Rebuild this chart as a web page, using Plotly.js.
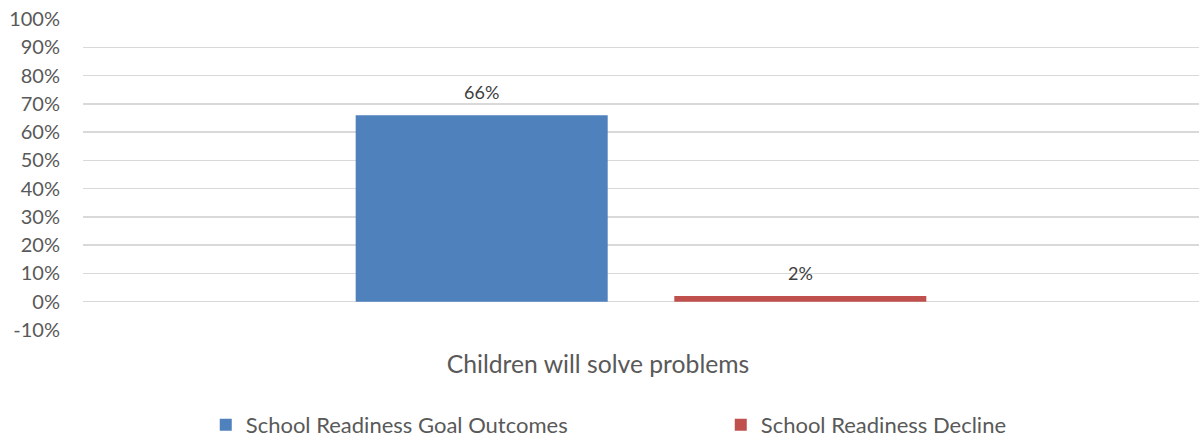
<!DOCTYPE html>
<html>
<head>
<meta charset="utf-8">
<script src="https://cdn.plot.ly/plotly-3.0.1.min.js"></script>
<style>html,body{margin:0;padding:0;background:#fff;}#chart{width:1199px;height:437px;}</style>
</head>
<body>
<div id="chart"></div>
<script>
var categories = ["Children will solve problems"];
var seriesNames = ["School Readiness Goal Outcomes", "School Readiness Decline"];
var goalOutcomes = [0.66];
var decline = [0.02];
var seriesColors = ["#4F81BD", "#C0504D"];
var yTickValues = [-0.1, 0, 0.1, 0.2, 0.3, 0.4, 0.5, 0.6, 0.7, 0.8, 0.9, 1.0];
var yTickLabels = ["-10%", "0%", "10%", "20%", "30%", "40%", "50%", "60%", "70%", "80%", "90%", "100%"];

var FONT = "Lato, 'Open Sans', sans-serif";
var W = 1199, H = 437;
var MARGIN = {l: 83, r: 0, t: 19, b: 107, pad: 0, autoexpand: false};
var BARGAP = 0.429, BARGROUPGAP = 0.209;

var allSeries = [goalOutcomes, decline];

var data = allSeries.map(function (values, i) {
  return {
    type: "bar",
    name: seriesNames[i],
    x: categories,
    y: values,
    marker: {color: seriesColors[i]},
    hoverinfo: "none"
  };
});

// data labels: placed at each bar's value, offset to the bar's slot within the group
var plotW = W - MARGIN.l - MARGIN.r;
var catW = plotW / categories.length;
var slotW = catW * (1 - BARGAP) / allSeries.length;
var annotations = [];
allSeries.forEach(function (values, i) {
  values.forEach(function (v, j) {
    annotations.push({
      x: categories[j],
      y: v,
      xref: "x",
      yref: "y",
      text: Math.round(v * 100) + "%",
      showarrow: false,
      xshift: (i - (allSeries.length - 1) / 2) * slotW,
      yshift: 23,
      yanchor: "middle",
      xanchor: "center",
      font: {family: FONT, size: 18, color: "#404040"}
    });
  });
});

var layout = {
  width: W,
  height: H,
  margin: MARGIN,
  paper_bgcolor: "#ffffff",
  plot_bgcolor: "#ffffff",
  font: {family: FONT, color: "#595959"},
  barmode: "group",
  bargap: BARGAP,
  bargroupgap: BARGROUPGAP,
  showlegend: true,
  annotations: annotations,
  xaxis: {
    type: "category",
    showgrid: false,
    zeroline: false,
    showline: false,
    ticks: "",
    ticklabelstandoff: 17,
    ticklabelshift: -43,
    tickfont: {family: FONT, size: 24.7, color: "#595959"},
    automargin: false
  },
  yaxis: {
    range: [-0.1, 1.0],
    tickmode: "array",
    tickvals: yTickValues,
    ticktext: yTickLabels,
    showgrid: true,
    gridcolor: "#d9d9d9",
    gridwidth: 1.5,
    zeroline: false,
    showline: false,
    ticks: "",
    ticklabelstandoff: 22,
    tickfont: {family: FONT, size: 20, color: "#595959"},
    automargin: false,
    fixedrange: true
  },
  legend: {
    orientation: "h",
    x: 0.11,
    xanchor: "left",
    y: -0.305,
    yanchor: "middle",
    entrywidth: 470,
    entrywidthmode: "pixels",
    font: {family: FONT, size: 22, color: "#595959"},
    bgcolor: "rgba(0,0,0,0)"
  }
};

Plotly.newPlot("chart", data, layout, {displayModeBar: false, staticPlot: true});
</script>
</body>
</html>
